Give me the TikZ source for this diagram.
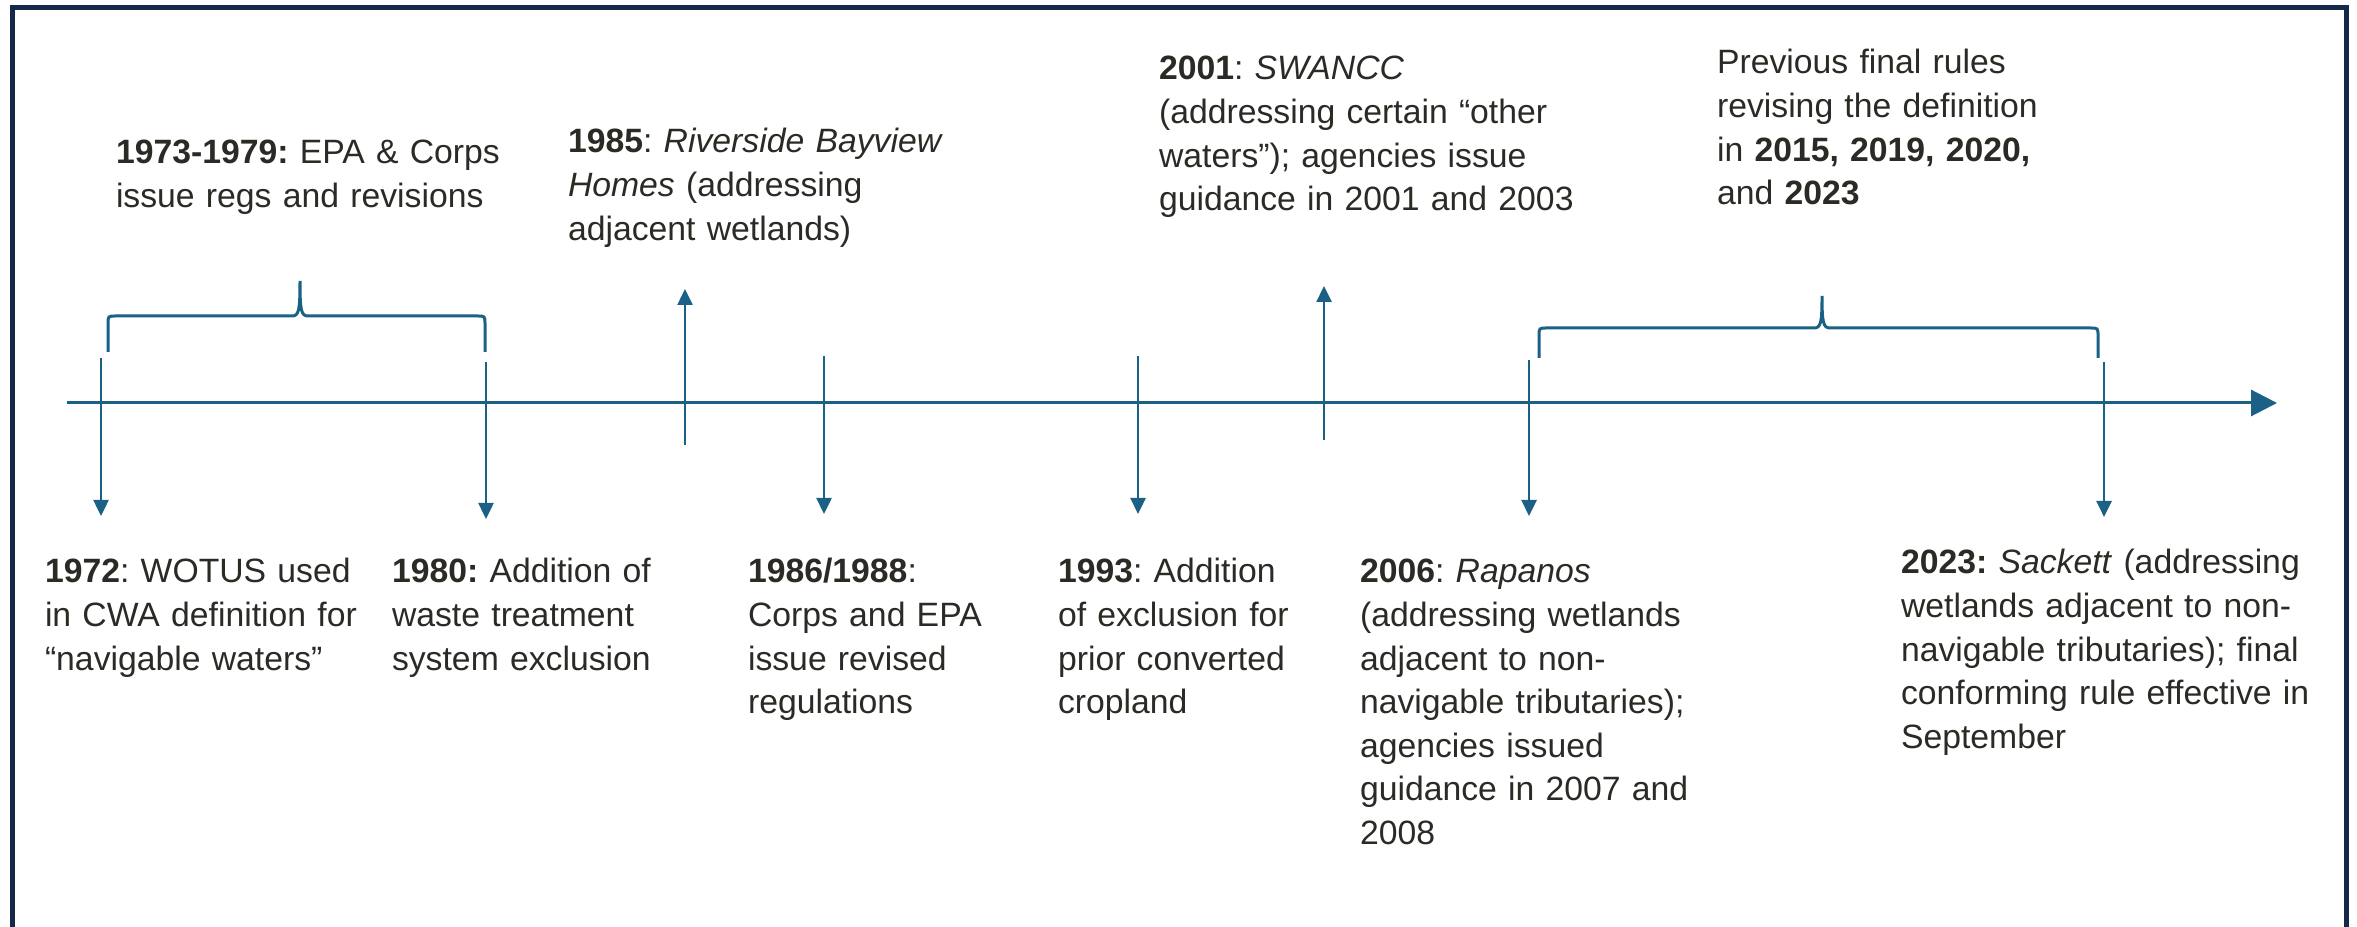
\documentclass[tikz,border=0pt]{standalone}
\usepackage{fontspec}
\setmainfont{Liberation Sans}
\usetikzlibrary{arrows.meta}
\definecolor{tline}{HTML}{1B6186}
\definecolor{ttext}{HTML}{2B2A24}
\definecolor{tframe}{HTML}{14294A}
\frenchspacing

\begin{document}
\begin{tikzpicture}[x=0.1mm,y=-0.1mm,inner sep=0pt,outer sep=0pt,
event/.style={anchor=base west,align=left,text width=80mm,text=ttext,font=\fontsize{9.6}{12.4}\selectfont},
axis/.style={draw=tline,line width=0.3mm,-{Triangle[length=2.6mm,width=2.6mm]}},
tick/.style={draw=tline,line width=0.25mm,-{Triangle[length=1.6mm,width=1.5mm]}},
bracket/.style={draw=tline,line width=0.3mm}]
\useasboundingbox (0,0) rectangle (2357,927);
\draw[tframe,line width=0.5mm] (12,8) rectangle (2346,1000);

% events above the line
\draw (116,164) node[event] (e7379) {\textbf{1973-1979:} EPA \& Corps\\issue regs and revisions};
\draw (568,153) node[event] (e1985) {\textbf{1985}: \textit{Riverside Bayview}\\\textit{Homes} (addressing\\adjacent wetlands)};
\draw (1159,80) node[event] (e2001) {\textbf{2001}: \textit{SWANCC}\\(addressing certain “other\\waters”); agencies issue\\guidance in 2001 and 2003};
\draw (1717,74) node[event] (erules) {Previous final rules\\revising the definition\\in \textbf{2015, 2019, 2020,}\\and \textbf{2023}};

% events below the line
\draw (45,583) node[event] (e1972) {\textbf{1972}: WOTUS used\\in CWA definition for\\“navigable waters”};
\draw (392,583) node[event] (e1980) {\textbf{1980:} Addition of\\waste treatment\\system exclusion};
\draw (748,583) node[event] (e1986) {\textbf{1986/1988}:\\Corps and EPA\\issue revised\\regulations};
\draw (1058,583) node[event] (e1993) {\textbf{1993}: Addition\\of exclusion for\\prior converted\\cropland};
\draw (1360,583) node[event] (e2006) {\textbf{2006}: \textit{Rapanos}\\(addressing wetlands\\adjacent to non-\\navigable tributaries);\\agencies issued\\guidance in 2007 and\\2008};
\draw (1901,574) node[event] (e2023) {\textbf{2023:} \textit{Sackett} (addressing\\wetlands adjacent to non-\\navigable tributaries); final\\conforming rule effective in\\September};

% timeline
\coordinate (start) at (67,403);
\coordinate (stop) at (2277,403);
\draw[axis] (start) -- (stop);

\coordinate (a1972) at (101,358); \coordinate (b1972) at (101,516);
\coordinate (a1980) at (486,362); \coordinate (b1980) at (486,519);
\coordinate (a1985) at (685,445); \coordinate (b1985) at (685,289);
\coordinate (a1986) at (824,356); \coordinate (b1986) at (824,514);
\coordinate (a1993) at (1138,356); \coordinate (b1993) at (1138,514);
\coordinate (a2001) at (1324,440); \coordinate (b2001) at (1324,286);
\coordinate (a2006) at (1529,360); \coordinate (b2006) at (1529,516);
\coordinate (a2023) at (2104,362); \coordinate (b2023) at (2104,517);
\draw[tick] (a1972) -- (b1972);
\draw[tick] (a1980) -- (b1980);
\draw[tick] (a1985) -- (b1985);
\draw[tick] (a1986) -- (b1986);
\draw[tick] (a1993) -- (b1993);
\draw[tick] (a2001) -- (b2001);
\draw[tick] (a2006) -- (b2006);
\draw[tick] (a2023) -- (b2023);

% braces
\draw[bracket] (108,352) -- (108,324) .. controls (108,316) .. (116,316) -- (292,316)
  .. controls (299,316) and (300,310) .. (300,281) .. controls (300,310) and (301,316) .. (308,316)
  -- (477,316) .. controls (485,316) .. (485,324) -- (485,352);
\draw[bracket] (1539,358) -- (1539,336) .. controls (1539,328) .. (1547,328) -- (1814,328)
  .. controls (1821,328) and (1822,322) .. (1822,296) .. controls (1822,322) and (1823,328) .. (1830,328)
  -- (2090,328) .. controls (2098,328) .. (2098,336) -- (2098,358);
\end{tikzpicture}
\end{document}
